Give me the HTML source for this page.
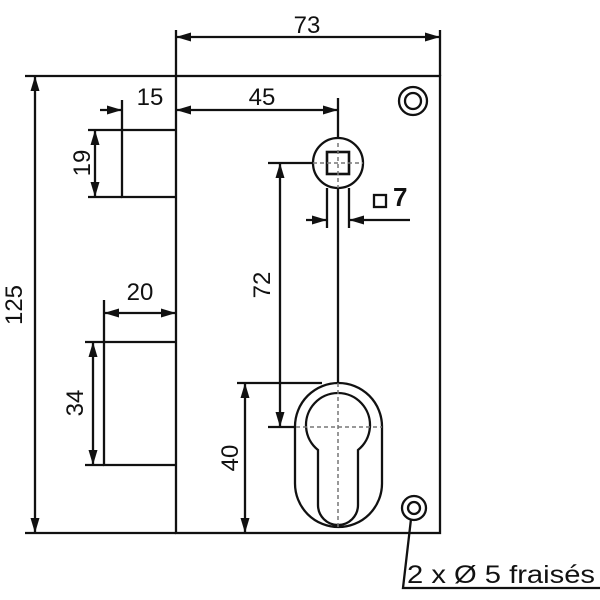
<!DOCTYPE html>
<html><head><style>body{margin:0;background:#fff}svg{display:block}text{font-family:"Liberation Sans",sans-serif;font-size:24px;fill:#111}</style></head><body>
<svg width="600" height="600" viewBox="0 0 600 600">
<defs>
<marker id="a" viewBox="0 0 10 6" refX="10" refY="3" markerWidth="17" markerHeight="9" markerUnits="userSpaceOnUse" orient="auto-start-reverse"><path d="M0,0L10,3L0,6z" fill="#111"/></marker>
</defs>
<g stroke="#111" stroke-width="2.3" fill="none">
<rect x="176" y="76" width="264" height="457"/>
<path d="M176,130H122V197H176M176,342H104V465H176"/>
<circle cx="413" cy="101" r="14"/><circle cx="413" cy="101" r="8"/>
<circle cx="414" cy="508" r="12"/><circle cx="414" cy="508" r="6"/>
<circle cx="338" cy="163" r="25"/><rect x="327" y="152" width="22" height="22" stroke-width="2.6"/>
<path d="M338,98V138M338,188V383M327,188V228M349,188V228"/>
<rect x="295" y="383" width="87" height="144" rx="43.5"/>
<path d="M318,450A32,32 0 1 1 358,450V505A20,20 0 0 1 318,505Z"/>
<rect x="374" y="195" width="12" height="12"/>
<path d="M176,30V76M440,30V76M25,76H176M25,533H176"/>
<path d="M176,37H440" marker-start="url(#a)" marker-end="url(#a)"/>
<path d="M35,76V533" marker-start="url(#a)" marker-end="url(#a)"/>
<path d="M122,100V130M100,110H122" marker-end="url(#a)"/>
<path d="M176,110H338" marker-start="url(#a)" marker-end="url(#a)"/>
<path d="M88,130H122M88,197H122"/>
<path d="M95,130V197" marker-start="url(#a)" marker-end="url(#a)"/>
<path d="M104,300V342"/>
<path d="M104,313H176" marker-start="url(#a)" marker-end="url(#a)"/>
<path d="M85,342H104M85,465H104"/>
<path d="M93,342V465" marker-start="url(#a)" marker-end="url(#a)"/>
<path d="M268,163H313M268,427H296"/>
<path d="M280,163V427" marker-start="url(#a)" marker-end="url(#a)"/>
<path d="M237,383H322"/>
<path d="M245,383V533" marker-start="url(#a)" marker-end="url(#a)"/>
<path d="M306,220H327" marker-end="url(#a)"/>
<path d="M410,220H349" marker-end="url(#a)"/>
<path d="M411,519L403,588H600"/>
</g>
<g stroke="#777" stroke-width="1.5" stroke-dasharray="4,3" fill="none">
<path d="M313,163H363M338,143V188M296,427H382M338,383V527"/>
</g>
<text x="307" y="33" text-anchor="middle">73</text>
<text x="150" y="105" text-anchor="middle">15</text>
<text x="262" y="105" text-anchor="middle">45</text>
<text x="140" y="300" text-anchor="middle">20</text>
<text x="393" y="206" style="font-weight:bold;font-size:26px">7</text>
<text transform="translate(22,305) rotate(-90)" text-anchor="middle">125</text>
<text transform="translate(90,163) rotate(-90)" text-anchor="middle">19</text>
<text transform="translate(83,403) rotate(-90)" text-anchor="middle">34</text>
<text transform="translate(270,285) rotate(-90)" text-anchor="middle">72</text>
<text transform="translate(238,458) rotate(-90)" text-anchor="middle">40</text>
<text x="407" y="583" style="font-size:25px" textLength="188" lengthAdjust="spacingAndGlyphs">2 x Ø 5 fraisés</text>
</svg>
</body></html>
